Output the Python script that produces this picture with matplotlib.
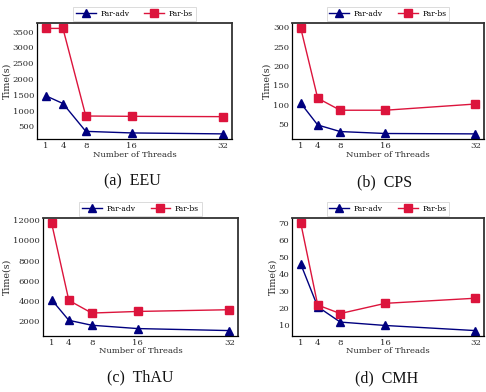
import matplotlib
matplotlib.use("Agg")
import matplotlib.pyplot as plt

threads = [1, 4, 8, 16, 32]
series_names = ["Par-adv", "Par-bs"]

eeu_adv = [1470, 1225, 345, 295, 265]
eeu_bs = [3600, 3600, 830, 820, 810]
cps_adv = [104, 48, 31, 26, 25]
cps_bs = [297, 117, 86, 86, 102]
thau_adv = [4110, 2070, 1580, 1250, 1050]
thau_bs = [11700, 4050, 2790, 2950, 3120]
cmh_adv = [46, 21, 12, 10, 7]
cmh_bs = [70, 22, 17, 23, 26]

captions = ["(a)  EEU", "(b)  CPS", "(c)  ThAU", "(d)  CMH"]
panels = [(eeu_adv, eeu_bs), (cps_adv, cps_bs), (thau_adv, thau_bs), (cmh_adv, cmh_bs)]

plt.rcParams['font.family'] = 'DejaVu Serif'

fig = plt.figure(figsize=(4.86, 3.92), dpi=100)

rects = [
    [0.076, 0.645, 0.401, 0.296],
    [0.601, 0.645, 0.395, 0.296],
    [0.088, 0.143, 0.402, 0.301],
    [0.601, 0.143, 0.395, 0.301],
]
cap_pos = [(0.272, 0.538), (0.792, 0.535), (0.288, 0.038), (0.796, 0.035)]
yticks_list = [
    [500, 1000, 1500, 2000, 2500, 3000, 3500],
    [50, 100, 150, 200, 250, 300],
    [2000, 4000, 6000, 8000, 10000, 12000],
    [10, 20, 30, 40, 50, 60, 70],
]

navy = "#00007f"
crimson = "#dc143c"

for i, (rect, (adv, bs)) in enumerate(zip(rects, panels)):
    ax = fig.add_axes(rect)
    ax.plot(threads, adv, color=navy, marker="^", markersize=5.8, linewidth=1.0, label=series_names[0])
    ax.plot(threads, bs, color=crimson, marker="s", markersize=5.4, linewidth=1.0, label=series_names[1])
    ax.set_xticks(threads)
    ax.set_yticks(yticks_list[i])
    ax.tick_params(length=0, labelsize=6.1, labelcolor="#2a2a2a", pad=2)
    ax.set_xlabel("Number of Threads", fontsize=6.1, color="#2a2a2a", labelpad=0.5)
    ax.set_ylabel("Time(s)", fontsize=6.8, color="#2a2a2a", labelpad=1)
    for s in ["left", "bottom"]:
        ax.spines[s].set_linewidth(0.9)
        ax.spines[s].set_color("black")
    for s in ["top", "right"]:
        ax.spines[s].set_linewidth(1.3)
        ax.spines[s].set_color("#333333")
    leg = ax.legend(loc="lower center", bbox_to_anchor=(0.5, 1.02), ncol=2, fontsize=5.5,
                    frameon=True, fancybox=False, edgecolor="#cccccc", handlelength=2.6,
                    columnspacing=2.0, borderpad=0.35, handletextpad=0.6, borderaxespad=0)
    leg.get_frame().set_linewidth(0.6)
    fig.text(cap_pos[i][0], cap_pos[i][1], captions[i], ha="center", va="center",
             fontsize=11.5, family="Liberation Serif", color="#111111")

fig.savefig("out.png", dpi=100)
